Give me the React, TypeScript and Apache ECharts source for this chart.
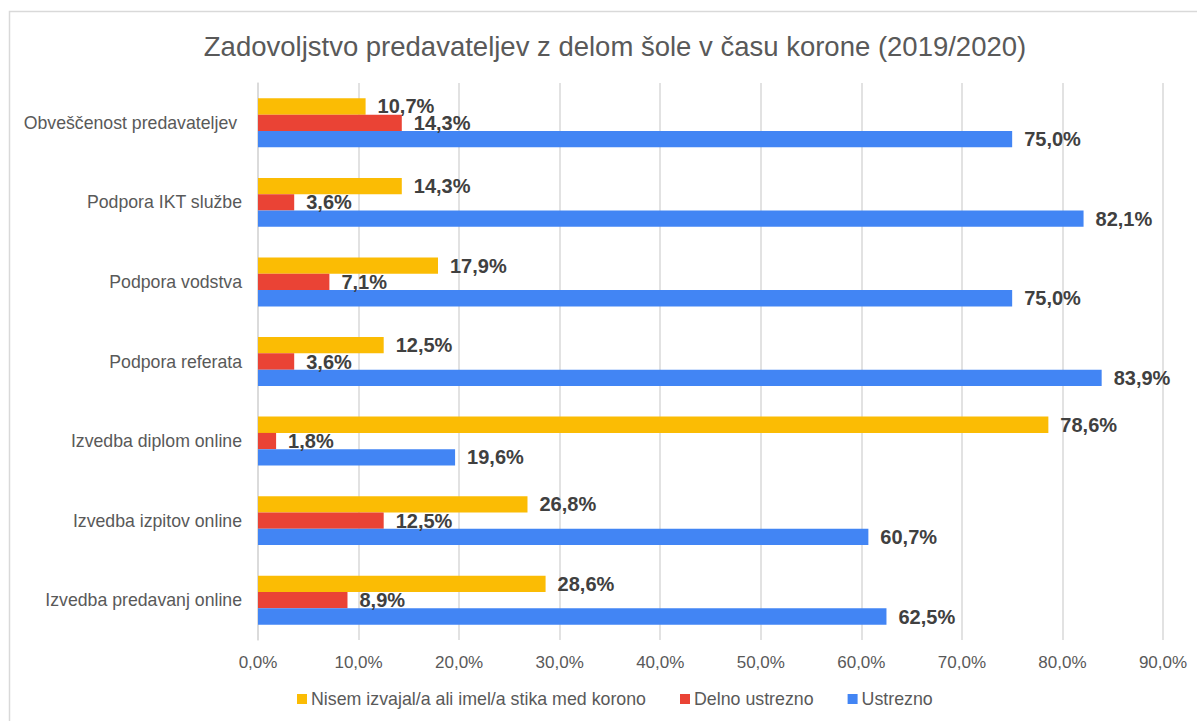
import React, { useEffect, useRef } from "react";
import * as echarts from "echarts";

const categories = [
  "Obveščenost predavateljev ",
  "Podpora IKT službe",
  "Podpora vodstva",
  "Podpora referata",
  "Izvedba diplom online",
  "Izvedba izpitov online",
  "Izvedba predavanj online",
];
const seriesNames = ["Nisem izvajal/a ali imel/a stika med korono", "Delno ustrezno", "Ustrezno"];
const nisem = [10.7, 14.3, 17.9, 12.5, 78.6, 26.8, 28.6];
const delno = [14.3, 3.6, 7.1, 3.6, 1.8, 12.5, 8.9];
const ustrezno = [75.0, 82.1, 75.0, 83.9, 19.6, 60.7, 62.5];
const xTicks = [0, 90, 10];

const fmt = (v: number) => v.toFixed(1).replace(".", ",") + "%";

export default function App() {
  const ref = useRef<HTMLDivElement>(null);
  useEffect(() => {
    document.body.style.margin = "0";
    const chart = echarts.init(ref.current!, null, { renderer: "svg" });
    const font = "'Liberation Sans', Arial, sans-serif";
    const mk = (name: string, data: number[], color: string) => ({
      name,
      type: "bar",
      data,
      barWidth: 16.3,
      barGap: "0%",
      itemStyle: { color },
      label: {
        show: true,
        position: "right",
        distance: 12,
        formatter: (p: any) => fmt(p.value),
        fontFamily: font,
        fontWeight: "bold",
        fontSize: 20,
        color: "#404040",
      },
    });
    chart.setOption({
      animation: false,
      textStyle: { fontFamily: font },
      title: {
        text: "Zadovoljstvo predavateljev z delom šole v času korone (2019/2020)",
        left: 610,
        textAlign: "center",
        top: 27,
        textStyle: { fontFamily: font, fontSize: 27.5, fontWeight: "normal", color: "#595959" },
      },
      graphic: [
        {
          type: "rect",
          shape: { x: 9.5, y: 11.5, width: 1400, height: 900 },
          style: { fill: "none", stroke: "#d9d9d9", lineWidth: 1.5 },
          silent: true,
        },
      ],
      legend: {
        data: seriesNames,
        bottom: 8,
        left: 292,
        icon: "rect",
        itemWidth: 10,
        itemHeight: 10,
        itemGap: 34,
        textStyle: { fontFamily: font, fontSize: 17.8, color: "#595959", padding: [0, 0, 0, -1] },
      },
      grid: { left: 258, right: 34, top: 83, bottom: 81, containLabel: false },
      xAxis: {
        type: "value",
        min: xTicks[0],
        max: xTicks[1],
        interval: xTicks[2],
        axisLabel: { formatter: (v: number) => fmt(v), fontSize: 17, color: "#595959", margin: 14, fontFamily: font },
        splitLine: { show: true, lineStyle: { color: "#d9d9d9", width: 1.5 } },
        axisLine: { show: false },
        axisTick: { show: false },
      },
      yAxis: {
        type: "category",
        data: categories,
        inverse: true,
        axisLabel: { fontSize: 17.7, color: "#595959", margin: 16, fontFamily: font },
        axisLine: { show: true, lineStyle: { color: "#d9d9d9", width: 1.5 } },
        axisTick: { show: false },
      },
      series: [
        mk(seriesNames[0], nisem, "#FBBC04"),
        mk(seriesNames[1], delno, "#EA4335"),
        mk(seriesNames[2], ustrezno, "#4285F4"),
      ],
    });
    return () => chart.dispose();
  }, []);
  return <div ref={ref} style={{ width: 1197, height: 721 }} />;
}
